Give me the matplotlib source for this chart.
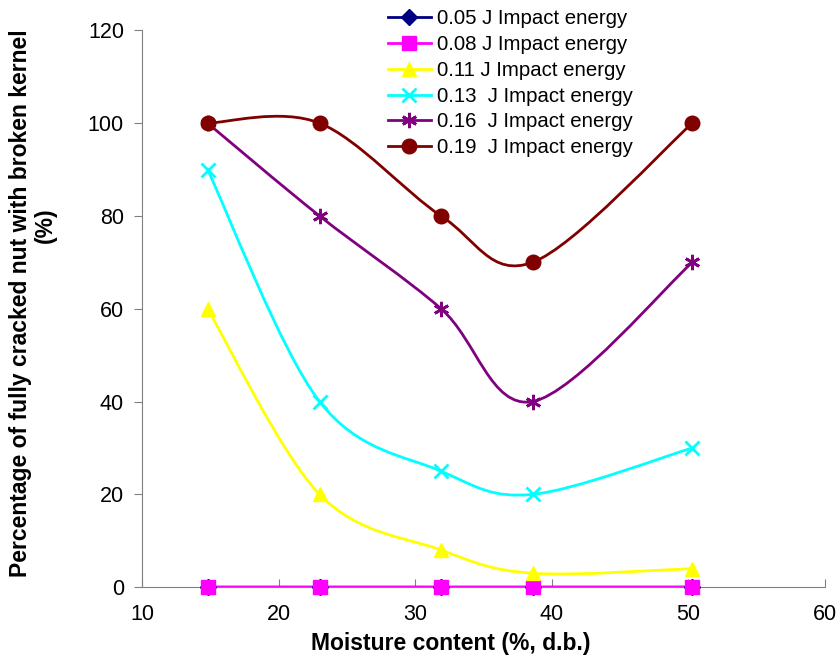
import numpy as np
import matplotlib.pyplot as plt
from matplotlib.path import Path
from matplotlib.patches import PathPatch
from matplotlib.lines import Line2D

plt.rcParams['font.family'] = ['Liberation Sans', 'DejaVu Sans']

moisture = [14.8, 23.0, 31.9, 38.6, 50.3]
labels = ["0.05 J Impact energy", "0.08 J Impact energy", "0.11 J Impact energy",
          "0.13  J Impact energy", "0.16  J Impact energy", "0.19  J Impact energy"]
e005 = [0, 0, 0, 0, 0]
e008 = [0, 0, 0, 0, 0]
e011 = [60, 20, 8, 3, 4]
e013 = [90, 40, 25, 20, 30]
e016 = [100, 80, 60, 40, 70]
e019 = [100, 100, 80, 70, 100]

series = [e005, e008, e011, e013, e016, e019]
colors = ['#000080', '#ff00ff', '#ffff00', '#00ffff', '#800080', '#800000']
markers = ['D', 's', '^', 'x', (6, 2, 0), 'o']
msizes = [8, 10, 10, 10, 11, 10.5]


def smooth_path(x, y):
    # excel-like smoothed line: bezier segments through the points
    p = np.column_stack([x, y]).astype(float)
    n = len(p)
    verts = [p[0]]
    codes = [Path.MOVETO]
    for i in range(n - 1):
        p0 = p[i - 1] if i > 0 else p[i]
        p3 = p[i + 2] if i + 2 < n else p[i + 1]
        c1 = p[i] + (p[i + 1] - p0) / 6
        c2 = p[i + 1] - (p3 - p[i]) / 6
        verts += [c1, c2, p[i + 1]]
        codes += [Path.CURVE4] * 3
    return Path(verts, codes)


fig = plt.figure(figsize=(8.4, 6.59), dpi=100)
ax = fig.add_axes([0.169, 0.109, 0.813, 0.845])

handles = []
for ys, c, m, ms, lab in zip(series, colors, markers, msizes, labels):
    ax.add_patch(PathPatch(smooth_path(moisture, ys), fc='none', ec=c, lw=2, zorder=2))
    mew = 2 if m in ('x', (6, 2, 0)) else 1
    ax.plot(moisture, ys, ls='none', marker=m, color=c, ms=ms, mew=mew, zorder=3, clip_on=False)
    handles.append(Line2D([], [], color=c, lw=2, marker=m, ms=ms, mew=mew, label=lab))

ax.set_xlim(10, 60)
ax.set_ylim(0, 120)
ax.set_xticks(range(10, 61, 10))
ax.set_yticks(range(0, 121, 20))
for s in ['top', 'right']:
    ax.spines[s].set_visible(False)
for s in ['left', 'bottom']:
    ax.spines[s].set_color('#808080')
ax.tick_params(axis='x', direction='in', length=6, color='#808080', labelsize=15.5, pad=12)
ax.tick_params(axis='y', direction='out', length=6, color='#808080', labelsize=15.5, pad=7)

ax.set_xlabel('Moisture content (%, d.b.)', fontsize=16.5, fontweight='bold')
ax.xaxis.set_label_coords(0.452, -0.080)
ax.set_ylabel('Percentage of fully cracked nut with broken kernel',
              fontsize=16.5, fontweight='bold')
ax.yaxis.set_label_coords(-0.161, 0.51)
ax.text(-0.142, 0.65, '(%)', transform=ax.transAxes, rotation=90, fontsize=16.5,
        fontweight='bold', ha='center', va='center')

fig.legend(handles=handles, loc='upper left', bbox_to_anchor=(0.452, 0.998), frameon=False,
           fontsize=14.7, handlelength=2.1, handletextpad=0.3, labelspacing=0.33,
           borderaxespad=0)

fig.savefig('out.png', dpi=100)
